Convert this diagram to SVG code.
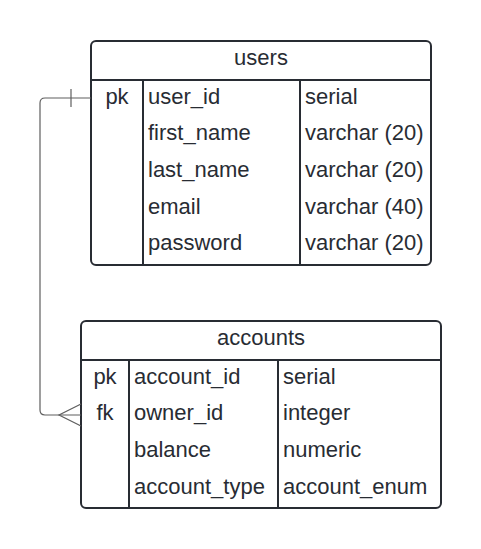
<svg xmlns="http://www.w3.org/2000/svg" width="481" height="549" viewBox="0 0 481 549">
<style>
.box{fill:#fff;stroke:#282c33;stroke-width:2}
.ln{stroke:#282c33;stroke-width:2;fill:none}
.t{font-family:"Liberation Sans",Arial,sans-serif;font-size:22px;fill:#282c33}
.c{text-anchor:middle}
.conn{stroke:#5e5e5e;stroke-width:1.2;fill:none}
</style>
<rect width="481" height="549" fill="#fff"/>
<g id="users">
<rect class="box" x="91" y="41" width="340" height="224" rx="5"/>
<line class="ln" x1="91" y1="80" x2="431" y2="80"/>
<line class="ln" x1="143" y1="80" x2="143" y2="265"/>
<line class="ln" x1="300" y1="80" x2="300" y2="265"/>
<text class="t c" x="261" y="65">users</text>
<text class="t c" x="117" y="104">pk</text>
<text class="t" x="148" y="104">user_id</text>
<text class="t" x="305" y="104">serial</text>
<text class="t" x="148" y="140">first_name</text>
<text class="t" x="305" y="140">varchar (20)</text>
<text class="t" x="148" y="177">last_name</text>
<text class="t" x="305" y="177">varchar (20)</text>
<text class="t" x="148" y="214">email</text>
<text class="t" x="305" y="214">varchar (40)</text>
<text class="t" x="148" y="250">password</text>
<text class="t" x="305" y="250">varchar (20)</text>
</g>
<g id="accounts">
<rect class="box" x="81" y="321" width="360" height="187" rx="5"/>
<line class="ln" x1="81" y1="360" x2="441" y2="360"/>
<line class="ln" x1="129" y1="360" x2="129" y2="508"/>
<line class="ln" x1="278" y1="360" x2="278" y2="508"/>
<text class="t c" x="261" y="345">accounts</text>
<text class="t c" x="105" y="384">pk</text>
<text class="t" x="134" y="384">account_id</text>
<text class="t" x="283" y="384">serial</text>
<text class="t c" x="105" y="420">fk</text>
<text class="t" x="134" y="420">owner_id</text>
<text class="t" x="283" y="420">integer</text>
<text class="t" x="134" y="457">balance</text>
<text class="t" x="283" y="457">numeric</text>
<text class="t" x="134" y="494">account_type</text>
<text class="t" x="283" y="494">account_enum</text>
</g>
<g id="connectors">
<path class="conn" d="M91 98 H45 Q40 98 40 103 V410 Q40 415 45 415 H81"/>
<line class="conn" x1="71" y1="89" x2="71" y2="107"/>
<path class="conn" d="M81 404 L59 415 L81 426"/>
</g>
</svg>
